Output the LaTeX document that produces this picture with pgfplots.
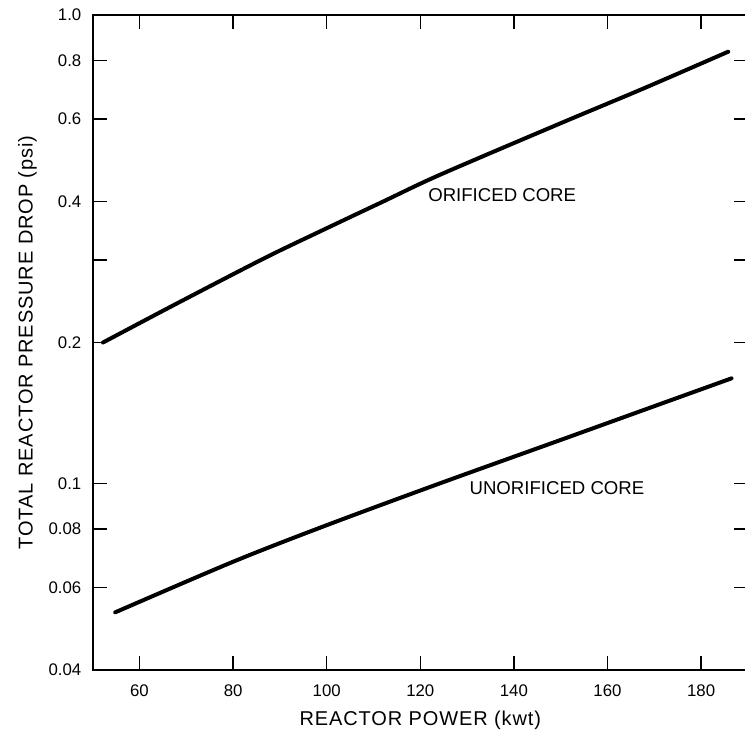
\documentclass[border=0pt]{standalone}
\usepackage{fontspec}
\setmainfont{Liberation Sans}
\newfontfamily\lsfont[LetterSpace=4.4]{Liberation Sans}
\usepackage{pgfplots}
\pgfplotsset{compat=1.18}
\newcommand{\lblfont}{\lsfont\fontsize{10}{12}\selectfont}
\newcommand{\inlfont}{\fontsize{9.3}{11}\selectfont}
\newcommand{\tckfont}{\fontsize{8.4}{10}\selectfont}
\begin{document}
\begin{tikzpicture}
\begin{axis}[
  scale only axis,
  width=327.6pt, height=327.5pt,
  xmin=50, xmax=190,
  ymode=log, ymin=0.04, ymax=1,
  axis line style={line width=1pt},
  xtick={60,80,100,120,140,160,180},
  xticklabels={60,80,100,120,140,160,180},
  ytick={0.04,0.06,0.08,0.1,0.2,0.3,0.4,0.6,0.8,1},
  yticklabels={{0.04},{0.06},{0.08},{0.1},{0.2},{},{0.4},{0.6},{0.8},{1.0}},
  yminorticks=false, xminorticks=false,
  tick align=inside,
  major tick length=7pt,
  tick style={line width=0.7pt, black},
  xticklabel style={font=\tckfont, anchor=base, inner sep=0pt, yshift=-13.3pt},
  yticklabel style={font=\tckfont, anchor=east, inner sep=0pt, xshift=-5.5pt},
  xlabel={REACTOR POWER (kwt)},
  ylabel={TOTAL REACTOR PRESSURE DROP (psi)},
  xlabel style={font=\lblfont, at={(axis description cs:0.5,-0.084)}, anchor=base},
  ylabel style={font=\lblfont, at={(axis description cs:-0.0916,0.5)}, anchor=base},
]
\addplot[black, line width=2pt, line cap=round, smooth] coordinates {
  (52.2,0.200) (67.2,0.240) (86.5,0.302) (99.3,0.348) (112.1,0.400)
  (124.2,0.456) (149.9,0.587) (167.7,0.697) (185.8,0.835)
};
\addplot[black, line width=2pt, line cap=round, smooth] coordinates {
  (54.8,0.0531) (80.0,0.0681) (100,0.0815) (124.2,0.1001)
  (149.9,0.1238) (167.7,0.1435) (186.5,0.1677)
};
\node[font=\inlfont] at (axis cs:137.5,0.413) {ORIFICED CORE};
\node[font=\inlfont] at (axis cs:149.2,0.0978) {UNORIFICED CORE};
\end{axis}
\pgfresetboundingbox
\path ([shift={(-46.35pt,-33.5pt)}]current axis.south west) rectangle ([shift={(-1.45pt,7.5pt)}]current axis.north east);
\end{tikzpicture}
\end{document}
